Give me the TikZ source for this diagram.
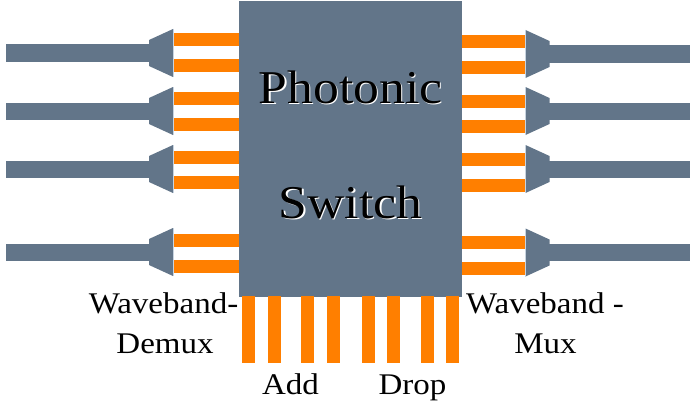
\documentclass[tikz,border=0pt]{standalone}
\usepackage{fontspec}
\setmainfont[FakeStretch=1.1]{Liberation Serif}
\definecolor{slate}{RGB}{98,117,137}
\definecolor{slateedge}{RGB}{200,212,224}
\definecolor{amber}{RGB}{255,127,0}
\tikzset{
  slatefill/.style={fill=slate},
  pinfill/.style={fill=amber},
  funnel/.style={fill=slate},
  lbl/.style={anchor=base, inner sep=0pt, font=\fontsize{30}{36}\selectfont},
  big/.style={anchor=base, inner sep=0pt, font=\fontsize{47}{56}\selectfont},
  shade/.style={text=white, xshift=1.5pt, yshift=-1.5pt},
}
\begin{document}
\begin{tikzpicture}[x=1pt,y=-1pt]
\useasboundingbox (0,0) rectangle (692,404);
% switch body
\fill[slatefill] (239,1) rectangle (462,297);
\coordinate (switchC) at (350.5,150);
% left side orange pins
\foreach \t in {33,59,92,118,151,176,234,260}
  \fill[pinfill] (173,\t) rectangle (239,\t+13);
% right side orange pins
\foreach \t in {35,61,95,120,153,179,236,262}
  \fill[pinfill] (462,\t) rectangle (525.5,\t+13);
% bottom pins
\foreach \l in {242,268,301,327,362,387,421,446}
  \fill[pinfill] (\l,296) rectangle (\l+13,363);
% left demux funnels and fibres
\foreach \c in {53,111,169,252}{
  \fill[slatefill] (6,\c-8.5) rectangle (149.5,\c+8.5);
  \fill[funnel] (149,\c-13) -- (173,\c-24) -- (173,\c+24) -- (149,\c+13) -- cycle;
  \draw[slateedge, line width=0.7pt] (173,\c-24) -- (173,\c+24);
}
% right mux funnels and fibres
\foreach \c in {54,111,169,252.5}{
  \fill[slatefill] (549,\c-8.5) rectangle (690,\c+8.5);
  \fill[funnel] (525.5,\c-24) -- (549.5,\c-13) -- (549.5,\c+13) -- (525.5,\c+24) -- cycle;
  \draw[slateedge, line width=0.7pt] (525.5,\c-24) -- (525.5,\c+24);
}
% labels
\node[big, shade] at (350.5,103) {Photonic};
\node[big] (photonic) at (350.5,103) {Photonic};
\node[big, shade] at (350.5,218) {Switch};
\node[big] (switch) at (350.5,218) {Switch};
\node[lbl, shade] at (163.5,313) {Waveband-};
\node[lbl] (wbl) at (163.5,313) {Waveband-};
\node[lbl, shade] at (165,353) {Demux};
\node[lbl] (demux) at (165,353) {Demux};
\node[lbl, shade] at (545,313) {Waveband -};
\node[lbl] (wbr) at (545,313) {Waveband -};
\node[lbl, shade] at (545.5,353) {Mux};
\node[lbl] (mux) at (545.5,353) {Mux};
\node[lbl, shade] at (290.5,394) {Add};
\node[lbl] (add) at (290.5,394) {Add};
\node[lbl, shade] at (412.5,394) {Drop};
\node[lbl] (drop) at (412.5,394) {Drop};
\end{tikzpicture}
\end{document}
